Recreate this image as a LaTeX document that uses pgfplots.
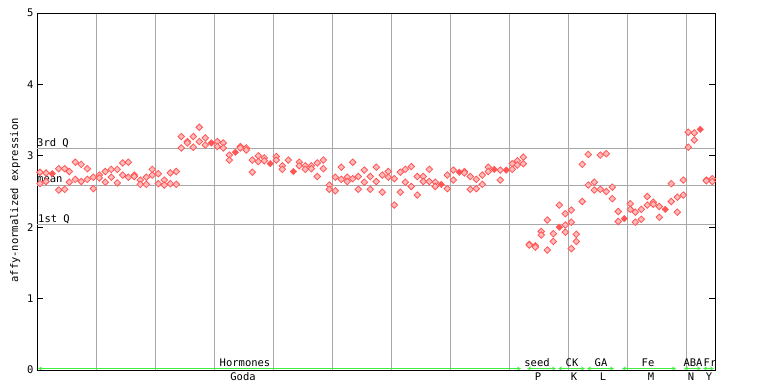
\documentclass[border=0pt]{standalone}
\usepackage{fontspec}
\setmainfont{DejaVu Sans Mono}
\usepackage{pgfplots}
\pgfplotsset{compat=1.18}
\usetikzlibrary{arrows.meta}
\definecolor{pt}{RGB}{255,85,85}
\definecolor{gr}{RGB}{168,168,168}
\definecolor{grn}{RGB}{60,240,60}
\begin{document}
\begin{tikzpicture}[font=\fontsize{10.5}{12}\selectfont]
\useasboundingbox (0,0) rectangle (768pt,384pt);
\begin{axis}[at={(37pt,14pt)}, anchor=south west, scale only axis,
  width=678pt, height=357pt, xmin=37, xmax=715, ymin=0, ymax=5,
  clip=false,
  axis line style={black, line width=0.9pt},
  xtick={96,155,214,273,332,391,450,509,568,627,686}, xticklabels={},
  major x tick style={draw=none},
  xmajorgrids, grid style={gr, line width=0.9pt},
  ytick={0,1,2,3,4,5}, ytick pos=both, tick align=inside,
  major tick length=6pt, major y tick style={black, line width=0.9pt},
  /pgf/number format/assume math mode=true,
  yticklabel style={font=\fontsize{10.5}{12}\selectfont},
  ylabel={affy-normalized expression},
  ylabel style={at={(ticklabel cs:0.475)}, font=\fontsize{10.5}{12}\selectfont},
]
% quartile / mean lines
\addplot[gr, line width=0.9pt] coordinates {(37,3.11) (715,3.11)};
\addplot[gr, line width=0.9pt] coordinates {(37,2.59) (715,2.59)};
\addplot[gr, line width=0.9pt] coordinates {(37,2.04) (715,2.04)};
\node[anchor=base west, inner sep=0pt] at (axis cs:37,3.135) {3rd Q};
\node[anchor=base west, inner sep=0pt] at (axis cs:37,2.63) {mean};
\node[anchor=base west, inner sep=0pt] at (axis cs:38,2.07) {1st Q};
% samples
\addplot[only marks, mark=square*, mark size=2.3pt, mark options={rotate=45, draw=pt, fill=pt!40, line width=0.8pt}] table {
x y
40 2.77
40 2.61
46 2.76
46 2.64
58.7 2.82
58.7 2.52
64.7 2.82
64.7 2.53
69.3 2.78
69.3 2.63
75.3 2.91
75.3 2.67
81.3 2.88
81.3 2.64
87.3 2.82
87.3 2.67
93.3 2.70
93.3 2.54
99.3 2.73
99.3 2.69
105.3 2.78
105.3 2.63
111.3 2.81
111.3 2.70
117.3 2.81
117.3 2.62
122.7 2.90
122.7 2.73
128.3 2.91
128.3 2.70
134.3 2.73
134.3 2.71
140.3 2.66
140.3 2.60
146.3 2.70
146.3 2.60
152.3 2.81
152.3 2.73
158.3 2.75
158.3 2.61
164.3 2.66
164.3 2.59
170.3 2.76
170.3 2.61
176.3 2.78
176.3 2.60
181.3 3.27
181.3 3.11
187.3 3.20
187.3 3.18
193.3 3.27
193.3 3.12
199.3 3.40
199.3 3.20
205.3 3.25
205.3 3.15
217.3 3.20
217.3 3.13
223.3 3.18
223.3 3.11
229.3 3.01
229.3 2.94
240.3 3.13
240.3 3.11
246.3 3.11
246.3 3.08
252.3 2.94
252.3 2.77
258.3 3.00
258.3 2.92
264.3 2.97
264.3 2.93
276.3 2.99
276.3 2.94
282.3 2.86
282.3 2.81
288.3 2.94
299.3 2.91
299.3 2.86
305.3 2.86
305.3 2.81
311.3 2.86
311.3 2.82
317.3 2.90
317.3 2.71
323.3 2.94
323.3 2.82
329.3 2.59
329.3 2.53
335.3 2.70
335.3 2.51
341.3 2.84
341.3 2.67
347.3 2.70
347.3 2.64
352.7 2.91
352.7 2.68
358.3 2.71
358.3 2.53
364.3 2.80
364.3 2.63
370.3 2.71
370.3 2.53
376.3 2.84
376.3 2.64
382.3 2.73
382.3 2.49
388.3 2.78
388.3 2.70
394.3 2.68
394.3 2.31
400.3 2.77
400.3 2.49
405.3 2.81
405.3 2.63
411.3 2.85
411.3 2.57
417.3 2.71
417.3 2.45
423.3 2.71
423.3 2.64
429.3 2.81
429.3 2.64
435.3 2.63
435.3 2.57
447.3 2.73
447.3 2.54
453.3 2.80
453.3 2.66
464.3 2.78
464.3 2.76
470.3 2.71
470.3 2.53
476.3 2.67
476.3 2.54
482.3 2.73
482.3 2.60
488.3 2.84
488.3 2.78
500.3 2.80
500.3 2.66
512.3 2.89
512.3 2.81
517.3 2.93
517.3 2.87
523.3 2.98
523.3 2.89
529.3 1.76
529.3 1.75
535.3 1.74
535.3 1.72
541.3 1.94
541.3 1.89
547.3 2.10
547.3 1.68
553.3 1.91
553.3 1.80
559.3 2.31
565.3 2.19
565.3 2.03
565.3 1.93
571.3 2.24
571.3 2.07
571.3 1.70
576.3 1.90
576.3 1.80
582.3 2.88
582.3 2.36
588.3 3.02
588.3 2.59
594.3 2.63
594.3 2.52
600.3 3.01
600.3 2.53
606.3 3.03
606.3 2.50
612.3 2.56
612.3 2.40
618.3 2.22
618.3 2.08
630.3 2.33
630.3 2.25
635.3 2.21
635.3 2.07
641.3 2.25
641.3 2.11
647.3 2.43
647.3 2.31
653.3 2.35
653.3 2.32
659.3 2.29
659.3 2.14
671.3 2.61
671.3 2.36
677.3 2.42
677.3 2.21
683.3 2.66
683.3 2.45
688.3 3.33
688.3 3.12
694.3 3.32
694.3 3.22
706.3 2.66
706.3 2.65
712.3 2.68
712.3 2.64
};
% group means (filled)
\addplot[only marks, mark=square*, mark size=2.3pt, mark options={rotate=45, pt, fill=pt}] table {
x y
52.3 2.75
211.3 3.18
235.3 3.05
270.3 2.89
293.3 2.78
441.3 2.60
459.3 2.77
494.3 2.81
506.3 2.80
559.3 2.00
624.3 2.12
665.3 2.25
700.3 3.37
};
% group annotation line
\begin{scope}[grn, line width=1.4pt, arrows={Stealth[length=4pt,width=4pt]-Stealth[length=4pt,width=4pt]}]
\draw (axis cs:38,0.02) -- (axis cs:521,0.02);
\draw (axis cs:527,0.02) -- (axis cs:556,0.02);
\draw (axis cs:558,0.02) -- (axis cs:585,0.02);
\draw (axis cs:587,0.02) -- (axis cs:614,0.02);
\draw (axis cs:622,0.02) -- (axis cs:676,0.02);
\draw (axis cs:684,0.02) -- (axis cs:701,0.02);
\draw (axis cs:703,0.02) -- (axis cs:714,0.02);
\end{scope}
\draw[black, line width=0.9pt] (axis cs:37,0) -- (axis cs:715,0);
\node[anchor=base, inner sep=0pt] at (axis cs:245,0.056) {Hormones};
\node[anchor=base, inner sep=0pt] at (axis cs:537,0.056) {seed};
\node[anchor=base, inner sep=0pt] at (axis cs:572,0.056) {CK};
\node[anchor=base, inner sep=0pt] at (axis cs:601,0.056) {GA};
\node[anchor=base, inner sep=0pt] at (axis cs:648,0.056) {Fe};
\node[anchor=base, inner sep=0pt] at (axis cs:693,0.056) {ABA};
\node[anchor=base, inner sep=0pt] at (axis cs:710,0.056) {Fr};
\node[anchor=base, inner sep=0pt] at (axis cs:243,-0.15) {Goda};
\node[anchor=base, inner sep=0pt] at (axis cs:538,-0.15) {P};
\node[anchor=base, inner sep=0pt] at (axis cs:574,-0.15) {K};
\node[anchor=base, inner sep=0pt] at (axis cs:603,-0.15) {L};
\node[anchor=base, inner sep=0pt] at (axis cs:651,-0.15) {M};
\node[anchor=base, inner sep=0pt] at (axis cs:691,-0.15) {N};
\node[anchor=base, inner sep=0pt] at (axis cs:709,-0.15) {Y};
\end{axis}
\end{tikzpicture}
\end{document}
